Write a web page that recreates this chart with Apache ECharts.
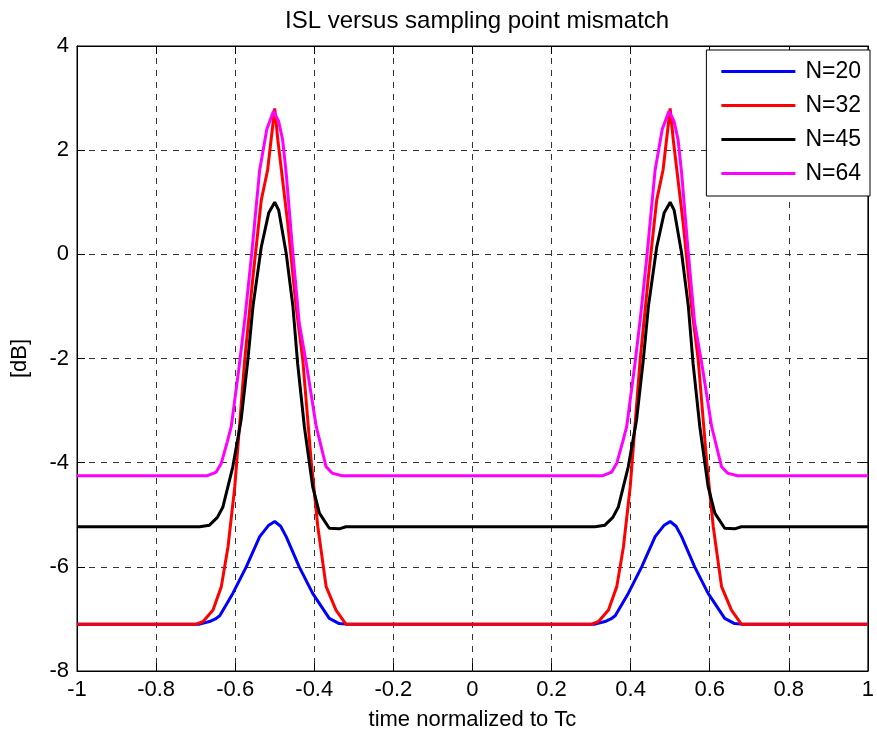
<!DOCTYPE html>
<html>
<head>
<meta charset="utf-8">
<script src="https://cdn.jsdelivr.net/npm/echarts@6/dist/echarts.min.js"></script>
<style>
  html, body { margin: 0; padding: 0; background: #fff; }
  #chart { width: 877px; height: 738px; }
</style>
</head>
<body>
<div id="chart"></div>
<script>
// ISL (dB) versus sampling point mismatch, time normalized to Tc
const titleText = 'ISL versus sampling point mismatch';
const xName = 'time normalized to Tc';
const yName = '[dB]';

const seriesNames = ['N=20', 'N=32', 'N=45', 'N=64'];
const seriesColors = ['#0000ff', '#ff0000', '#000000', '#ff00ff'];

const xTicks = ['-1', '-0.8', '-0.6', '-0.4', '-0.2', '0', '0.2', '0.4', '0.6', '0.8', '1'];
const yTicks = ['-8', '-6', '-4', '-2', '0', '2', '4'];

// [time, ISL dB]
const n20 = [
  [-1.0, -7.10], [-0.690, -7.10], [-0.665, -7.05], [-0.650, -7.00], [-0.639, -6.94],
  [-0.606, -6.51], [-0.572, -6.00], [-0.538, -5.42], [-0.515, -5.20], [-0.500, -5.13],
  [-0.485, -5.22], [-0.471, -5.42], [-0.438, -6.00], [-0.404, -6.51], [-0.362, -6.99],
  [-0.337, -7.09], [-0.320, -7.10],
  [0.310, -7.10], [0.335, -7.05], [0.350, -7.00], [0.361, -6.94],
  [0.394, -6.51], [0.428, -6.00], [0.462, -5.42], [0.485, -5.20], [0.500, -5.13],
  [0.515, -5.22], [0.529, -5.42], [0.562, -6.00], [0.596, -6.51], [0.638, -6.99],
  [0.663, -7.09], [0.680, -7.10], [1.0, -7.10]
];

const n32 = [
  [-1.0, -7.10], [-0.698, -7.10], [-0.681, -7.05], [-0.656, -6.83], [-0.635, -6.38],
  [-0.618, -5.61], [-0.601, -4.46], [-0.576, -2.03], [-0.555, -0.43], [-0.534, 1.04],
  [-0.518, 1.62], [-0.500, 2.80], [-0.492, 2.19], [-0.467, 0.59], [-0.446, -1.00],
  [-0.429, -2.03], [-0.408, -3.95], [-0.391, -5.23], [-0.370, -6.38], [-0.345, -6.83],
  [-0.320, -7.10],
  [0.302, -7.10], [0.319, -7.05], [0.344, -6.83], [0.365, -6.38],
  [0.382, -5.61], [0.399, -4.46], [0.424, -2.03], [0.445, -0.43], [0.466, 1.04],
  [0.482, 1.62], [0.500, 2.80], [0.508, 2.19], [0.533, 0.59], [0.554, -1.00],
  [0.571, -2.03], [0.592, -3.95], [0.609, -5.23], [0.630, -6.38], [0.655, -6.83],
  [0.680, -7.10], [1.0, -7.10]
];

const n45 = [
  [-1.0, -5.23], [-0.690, -5.23], [-0.665, -5.20], [-0.645, -5.05], [-0.631, -4.85],
  [-0.606, -4.08], [-0.585, -3.18], [-0.568, -2.03], [-0.555, -1.00], [-0.534, 0.14],
  [-0.515, 0.80], [-0.500, 1.00], [-0.490, 0.85], [-0.471, 0.02], [-0.454, -1.00],
  [-0.442, -2.10], [-0.425, -3.31], [-0.404, -4.46], [-0.387, -4.97], [-0.362, -5.26],
  [-0.337, -5.27], [-0.320, -5.23],
  [0.310, -5.23], [0.335, -5.20], [0.355, -5.05], [0.369, -4.85],
  [0.394, -4.08], [0.415, -3.18], [0.432, -2.03], [0.445, -1.00], [0.466, 0.14],
  [0.485, 0.80], [0.500, 1.00], [0.510, 0.85], [0.529, 0.02], [0.546, -1.00],
  [0.558, -2.10], [0.575, -3.31], [0.596, -4.46], [0.613, -4.97], [0.638, -5.26],
  [0.663, -5.27], [0.680, -5.23], [1.0, -5.23]
];

const n64 = [
  [-1.0, -4.25], [-0.670, -4.25], [-0.648, -4.18], [-0.635, -4.01], [-0.620, -3.60],
  [-0.610, -3.31], [-0.590, -2.16], [-0.575, -1.20], [-0.559, -0.05], [-0.538, 1.62],
  [-0.520, 2.40], [-0.503, 2.75], [-0.490, 2.55], [-0.480, 2.20], [-0.471, 1.56],
  [-0.455, 0.10], [-0.438, -1.32], [-0.420, -2.10], [-0.395, -3.31], [-0.370, -4.08],
  [-0.355, -4.20], [-0.330, -4.25],
  [0.330, -4.25], [0.352, -4.18], [0.365, -4.01], [0.380, -3.60],
  [0.390, -3.31], [0.410, -2.16], [0.425, -1.20], [0.441, -0.05], [0.462, 1.62],
  [0.480, 2.40], [0.497, 2.75], [0.510, 2.55], [0.520, 2.20], [0.529, 1.56],
  [0.545, 0.10], [0.562, -1.32], [0.580, -2.10], [0.605, -3.31], [0.630, -4.08],
  [0.645, -4.20], [0.670, -4.25], [1.0, -4.25]
];

const seriesData = [n20, n32, n45, n64];

const FONT = '"Liberation Sans", Arial, Helvetica, sans-serif';
const gridLine = { show: true, lineStyle: { color: '#333', width: 1, type: [6, 6] } };

const xLabelFmt = v => {
  const i = Math.round((v + 1) / 0.2);
  return xTicks[i] !== undefined ? xTicks[i] : '';
};
const yLabelFmt = v => {
  const i = Math.round((v + 8) / 2);
  return yTicks[i] !== undefined ? yTicks[i] : '';
};

const boxAxisLine = { show: true, onZero: false, lineStyle: { color: '#000', width: 1 } };
const inTick = { show: true, inside: true, length: 8, lineStyle: { color: '#000' } };

const chart = echarts.init(document.getElementById('chart'), null, { renderer: 'canvas' });

chart.setOption({
  animation: false,
  backgroundColor: '#ffffff',
  title: {
    text: titleText,
    left: 280,
    top: 4,
    textStyle: { fontFamily: FONT, fontSize: 24, fontWeight: 'normal', color: '#000' }
  },
  grid: {
    left: 77, right: 7, top: 46, bottom: 67,
    show: true, borderColor: '#000', borderWidth: 1, backgroundColor: '#fff'
  },
  legend: {
    orient: 'vertical',
    right: 7,
    top: 50,
    padding: [10, 9, 11, 15],
    itemWidth: 74,
    itemHeight: 14,
    itemGap: 11,
    backgroundColor: '#fff',
    borderColor: '#000',
    borderWidth: 1,
    shadowBlur: 0,
    shadowColor: 'transparent',
    itemStyle: { borderWidth: 0 },
    textStyle: { fontFamily: FONT, fontSize: 23, color: '#000', padding: [0, 0, 0, 5] },
    data: seriesNames.map(n => ({ name: n, icon: 'path://M0,6 L74,6 L74,9 L0,9 Z' }))
  },
  xAxis: [
    {
      type: 'value', min: -1, max: 1, interval: 0.2,
      name: xName, nameLocation: 'middle', nameGap: 38,
      nameTextStyle: { fontFamily: FONT, fontSize: 22, color: '#000' },
      axisLine: boxAxisLine,
      axisTick: inTick,
      axisLabel: { fontFamily: FONT, fontSize: 22, color: '#000', margin: 8, formatter: xLabelFmt },
      splitLine: gridLine
    },
    {
      type: 'value', min: -1, max: 1, interval: 0.2, position: 'top',
      axisLine: boxAxisLine,
      axisTick: inTick,
      axisLabel: { show: false },
      splitLine: { show: false }
    }
  ],
  yAxis: [
    {
      type: 'value', min: -8, max: 4, interval: 2,
      name: yName, nameLocation: 'middle', nameGap: 46,
      nameTextStyle: { fontFamily: FONT, fontSize: 22, color: '#000' },
      axisLine: boxAxisLine,
      axisTick: inTick,
      axisLabel: { fontFamily: FONT, fontSize: 22, color: '#000', margin: 8, formatter: yLabelFmt },
      splitLine: gridLine
    },
    {
      type: 'value', min: -8, max: 4, interval: 2, position: 'right',
      axisLine: boxAxisLine,
      axisTick: inTick,
      axisLabel: { show: false },
      splitLine: { show: false }
    }
  ],
  series: seriesNames.map((name, i) => ({
    name: name,
    type: 'line',
    xAxisIndex: 0,
    yAxisIndex: 0,
    data: seriesData[i],
    showSymbol: false,
    symbol: 'none',
    smooth: false,
    color: seriesColors[i],
    lineStyle: { color: seriesColors[i], width: 3 },
    itemStyle: { color: seriesColors[i] },
    z: 2 + i
  }))
});
</script>
</body>
</html>
